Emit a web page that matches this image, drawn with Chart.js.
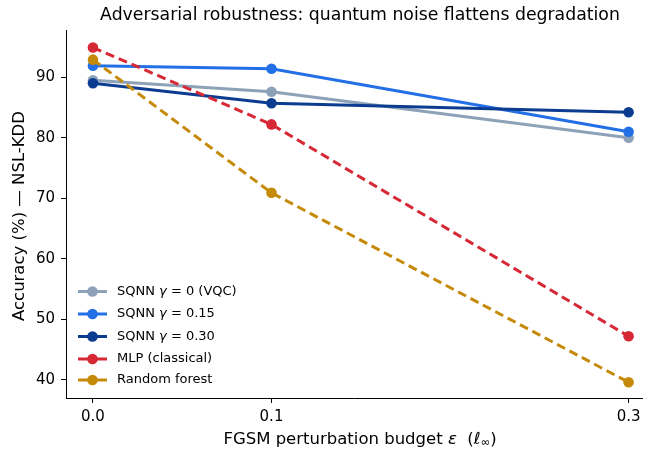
<!DOCTYPE html>
<html>
<head>
<meta charset="utf-8">
<script src="https://cdn.jsdelivr.net/npm/chart.js@4"></script>
<style>
  html, body { margin: 0; padding: 0; background: #fff; }
  #wrap { width: 648px; height: 451px; }
</style>
</head>
<body>
<div id="wrap"><canvas id="chart" width="648" height="451"></canvas></div>
<script>
// Data
const epsilons = [0.0, 0.1, 0.3];
const xTicks = [0.0, 0.1, 0.3];
const yTicks = [40, 50, 60, 70, 80, 90];
const seriesNames = ['SQNN γ = 0 (VQC)', 'SQNN γ = 0.15', 'SQNN γ = 0.30', 'MLP (classical)', 'Random forest'];
const sqnnG0 = [89.5, 87.6, 80.0];
const sqnnG015 = [91.9, 91.4, 81.0];
const sqnnG030 = [89.0, 85.7, 84.2];
const mlp = [94.9, 82.2, 47.2];
const randomForest = [92.9, 70.9, 39.6];

const colors = ['#8da2b8', '#2370e6', '#0c3c8f', '#d62835', '#c68a0a'];
const dashed = [false, false, false, true, true];
const allSeries = [sqnnG0, sqnnG015, sqnnG030, mlp, randomForest];

const FONT = "'DejaVu Sans', sans-serif";

const datasets = allSeries.map((vals, i) => ({
  label: seriesNames[i],
  data: vals.map((v, j) => ({ x: epsilons[j], y: v })),
  borderColor: colors[i],
  backgroundColor: colors[i],
  borderWidth: 3,
  borderDash: dashed[i] ? [9, 5] : [],
  pointRadius: 5.3,
  pointHoverRadius: 5.3,
  pointBorderWidth: 0,
  tension: 0,
  order: 5 - i,
}));

// Title, axis labels and in-axes legend drawn like matplotlib
const extras = {
  id: 'extras',
  afterDraw(c) {
    const ctx = c.ctx;
    ctx.save();
    ctx.fillStyle = '#000';
    ctx.textBaseline = 'middle';
    ctx.textAlign = 'center';
    ctx.font = '17.3px ' + FONT;
    ctx.fillText('Adversarial robustness: quantum noise flattens degradation', 360, 16);

    // y axis label
    ctx.save();
    ctx.translate(20, 216);
    ctx.rotate(-Math.PI / 2);
    ctx.font = '16.5px ' + FONT;
    ctx.fillText('Accuracy (%) — NSL-KDD', 0, 0);
    ctx.restore();

    // x axis label
    const fs = 16.5;
    ctx.textAlign = 'left';
    const parts = [
      ['FGSM perturbation budget ', ''],
      ['ε', 'italic '],
      ['  (', ''],
      ['ℓ', 'italic '],
    ];
    let w = 0;
    parts.forEach(p => { ctx.font = p[1] + fs + 'px ' + FONT; w += ctx.measureText(p[0]).width; });
    ctx.font = '11.5px ' + FONT; w += ctx.measureText('∞').width;
    ctx.font = fs + 'px ' + FONT; w += ctx.measureText(')').width;
    let x = 360 - w / 2;
    const ly = 440;
    parts.forEach(p => {
      ctx.font = p[1] + fs + 'px ' + FONT;
      ctx.fillText(p[0], x, ly);
      x += ctx.measureText(p[0]).width;
    });
    ctx.font = '11.5px ' + FONT;
    ctx.fillText('∞', x, ly + 3);
    x += ctx.measureText('∞').width;
    ctx.font = fs + 'px ' + FONT;
    ctx.fillText(')', x, ly);

    // legend
    const rows = [291.5, 314, 336.5, 359, 380];
    rows.forEach((yy, i) => {
      ctx.strokeStyle = colors[i];
      ctx.lineWidth = 3;
      ctx.setLineDash([]);
      ctx.beginPath();
      ctx.moveTo(78, yy);
      ctx.lineTo(107, yy);
      ctx.stroke();
      ctx.fillStyle = colors[i];
      ctx.beginPath();
      ctx.arc(92.5, yy, 5.3, 0, Math.PI * 2);
      ctx.fill();
      ctx.fillStyle = '#000';
      const name = seriesNames[i];
      let tx = 117;
      const gi = name.indexOf('γ');
      ctx.font = '13px ' + FONT;
      if (gi >= 0) {
        const before = name.slice(0, gi);
        const after = name.slice(gi + 1);
        ctx.fillText(before, tx, yy);
        tx += ctx.measureText(before).width;
        ctx.font = 'italic 13px ' + FONT;
        ctx.fillText('γ', tx, yy);
        tx += ctx.measureText('γ').width;
        ctx.font = '13px ' + FONT;
        ctx.fillText(after, tx, yy);
      } else {
        ctx.fillText(name, tx, yy);
      }
    });
    ctx.restore();
  }
};

const chart = new Chart(document.getElementById('chart'), {
  type: 'line',
  data: { datasets },
  options: {
    responsive: false,
    animation: false,
    layout: { padding: { top: 30, right: 0, left: 0, bottom: 0 } },
    plugins: {
      legend: { display: false },
      tooltip: { enabled: false },
      title: { display: false },
    },
    scales: {
      x: {
        type: 'linear',
        min: -0.0151,
        max: 0.3079,
        afterBuildTicks: s => { s.ticks = xTicks.map(v => ({ value: v })); },
        afterFit: s => { s.height = 53; },
        ticks: {
          color: '#000',
          font: { family: FONT, size: 15 },
          padding: 5,
          maxRotation: 0,
          callback: v => Number(v).toFixed(1),
        },
        grid: { display: true, drawOnChartArea: false, drawTicks: true, tickLength: 5, color: '#000' },
        border: { display: true, color: '#000', width: 1 },
      },
      y: {
        min: 37.0,
        max: 97.8,
        afterBuildTicks: s => { s.ticks = yTicks.map(v => ({ value: v })); },
        afterFit: s => { s.width = 66; },
        ticks: {
          color: '#000',
          font: { family: FONT, size: 15 },
          padding: 6,
        },
        grid: { display: true, drawOnChartArea: false, drawTicks: true, tickLength: 5, color: '#000' },
        border: { display: true, color: '#000', width: 1 },
      },
    },
  },
  plugins: [extras],
});
</script>
</body>
</html>
